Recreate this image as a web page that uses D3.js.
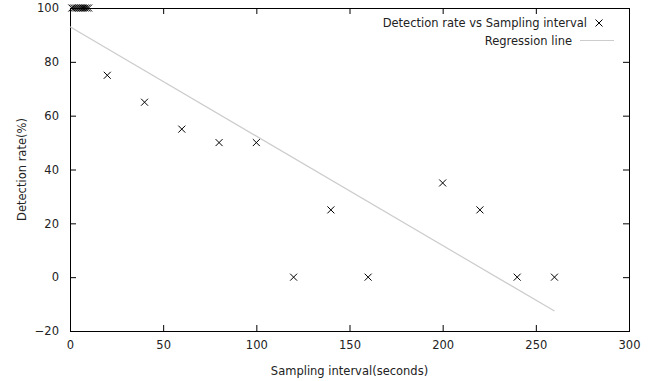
<!DOCTYPE html>
<html>
<head>
<meta charset="utf-8">
<script src="https://cdn.jsdelivr.net/npm/d3@7"></script>
<style>
  body { margin: 0; background: #fff; }
  svg text { font-family: "DejaVu Sans", sans-serif; font-size: 11.5px; fill: #222; }
</style>
</head>
<body>
<svg id="chart" width="657" height="381"></svg>
<script>
// data
const intervals = [1, 2, 3, 4, 5, 6, 7, 8, 9, 10, 20, 40, 60, 80, 100, 120, 140, 160, 200, 220, 240, 260]
const rates = [100, 100, 100, 100, 100, 100, 100, 100, 100, 100, 75, 65, 55, 50, 50, 0, 25, 0, 35, 25, 0, 0]
const regressionX = [0, 260]
const regressionY = [93, -12.6]
const xTicks = [0, 50, 100, 150, 200, 250, 300]
const yTicks = [-20, 0, 20, 40, 60, 80, 100]

const plotLeft = 70, plotRight = 629, plotTop = 8, plotBottom = 331

const svg = d3.select('#chart')

const x = d3.scaleLinear().domain([0, 300]).range([plotLeft, plotRight])
const y = d3.scaleLinear().domain([-20, 100]).range([plotBottom, plotTop])

// frame
svg.append('rect')
    .attr('x', plotLeft + 0.5).attr('y', plotTop + 0.5)
    .attr('width', plotRight - plotLeft).attr('height', plotBottom - plotTop)
    .attr('fill', 'none').attr('stroke', '#000').attr('stroke-width', 1)

// axes with inward ticks, mirrored on the opposite sides
const tick = 6
svg.append('g')
    .attr('transform', `translate(0,${plotBottom})`)
    .call(d3.axisBottom(x).tickValues(xTicks).tickSizeInner(-tick).tickSizeOuter(0).tickPadding(tick + 4))
    .call(g => g.select('.domain').remove())
svg.append('g')
    .attr('transform', `translate(0,${plotTop})`)
    .call(d3.axisTop(x).tickValues(xTicks).tickSizeInner(-tick).tickSizeOuter(0).tickFormat(''))
    .call(g => g.select('.domain').remove())
svg.append('g')
    .attr('transform', `translate(${plotLeft},0)`)
    .call(d3.axisLeft(y).tickValues(yTicks).tickSizeInner(-tick).tickSizeOuter(0).tickPadding(tick + 5))
    .call(g => g.select('.domain').remove())
svg.append('g')
    .attr('transform', `translate(${plotRight},0)`)
    .call(d3.axisRight(y).tickValues(yTicks).tickSizeInner(-tick).tickSizeOuter(0).tickFormat(''))
    .call(g => g.select('.domain').remove())

svg.selectAll('.tick text')
    .style('font-family', '"DejaVu Sans", sans-serif')
    .style('font-size', '11.5px')
    .attr('fill', '#222')

// regression line
const reg = regressionX.map((d, i) => [d, regressionY[i]])
svg.append('path')
    .datum(reg)
    .attr('fill', 'none')
    .attr('stroke', '#cccccc')
    .attr('stroke-width', 1.2)
    .attr('d', d3.line().x(d => x(d[0])).y(d => y(d[1])))

// crosses
const s = 3.5
const points = intervals.map((d, i) => [d, rates[i]])
svg.append('g')
    .selectAll('path')
    .data(points)
    .join('path')
    .attr('d', d => {
        const cx = x(d[0]), cy = y(d[1])
        return `M${cx - s},${cy - s}L${cx + s},${cy + s}M${cx - s},${cy + s}L${cx + s},${cy - s}`
    })
    .attr('stroke', '#000')
    .attr('stroke-width', 1)
    .attr('fill', 'none')

// legend
const legend = svg.append('g')
legend.append('text')
    .attr('x', 587).attr('y', 27)
    .attr('text-anchor', 'end')
    .text('Detection rate vs Sampling interval')
legend.append('path')
    .attr('d', `M${599 - s},${23 - s}L${599 + s},${23 + s}M${599 - s},${23 + s}L${599 + s},${23 - s}`)
    .attr('stroke', '#000')
legend.append('text')
    .attr('x', 572).attr('y', 45)
    .attr('text-anchor', 'end')
    .text('Regression line')
legend.append('line')
    .attr('x1', 580).attr('x2', 614)
    .attr('y1', 40.5).attr('y2', 40.5)
    .attr('stroke', '#cccccc').attr('stroke-width', 1.2)

// axis titles
svg.append('text')
    .attr('x', (plotLeft + plotRight) / 2).attr('y', 375)
    .attr('text-anchor', 'middle')
    .text('Sampling interval(seconds)')
svg.append('text')
    .attr('transform', `translate(26,${(plotTop + plotBottom) / 2}) rotate(-90)`)
    .attr('text-anchor', 'middle')
    .text('Detection rate(%)')
</script>
</body>
</html>
